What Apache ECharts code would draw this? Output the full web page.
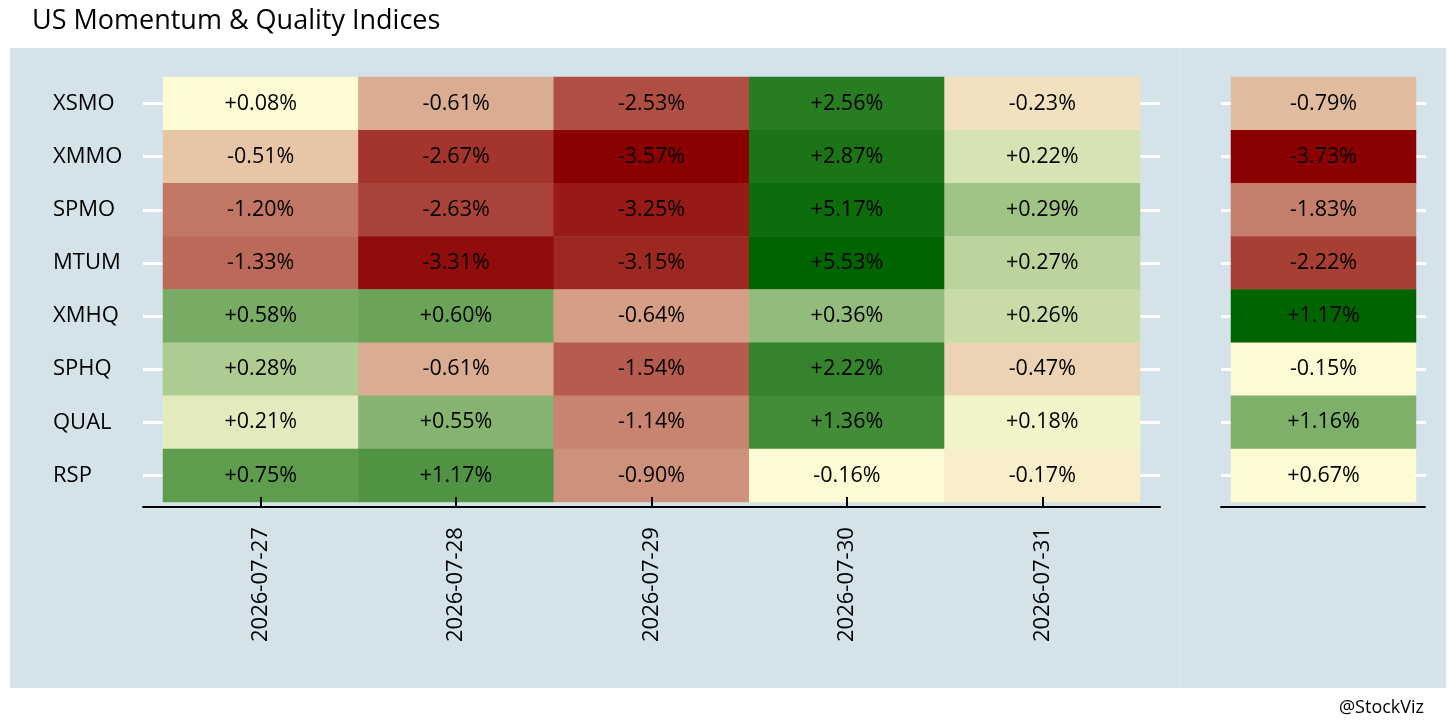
<!DOCTYPE html>
<html>
<head>
<meta charset="utf-8">
<script src="https://cdn.jsdelivr.net/npm/echarts@6/dist/echarts.min.js"></script>
<style>
  html, body { margin: 0; padding: 0; background: #fff; }
</style>
</head>
<body>
<div id="main" style="width: 1456px; height: 728px;"></div>

<script type="text/javascript">
    // tickers (rows, top to bottom) and trading days (columns)
    var tickers = ['XSMO', 'XMMO', 'SPMO', 'MTUM', 'XMHQ', 'SPHQ', 'QUAL', 'RSP'];
    var dates = ['2026-07-27', '2026-07-28', '2026-07-29', '2026-07-30', '2026-07-31'];

    // daily % returns, one array per day, in ticker order
    var ret0727 = [0.08, -0.51, -1.20, -1.33, 0.58, 0.28, 0.21, 0.75];
    var ret0728 = [-0.61, -2.67, -2.63, -3.31, 0.60, -0.61, 0.55, 1.17];
    var ret0729 = [-2.53, -3.57, -3.25, -3.15, -0.64, -1.54, -1.14, -0.90];
    var ret0730 = [2.56, 2.87, 5.17, 5.53, 0.36, 2.22, 1.36, -0.16];
    var ret0731 = [-0.23, 0.22, 0.29, 0.27, 0.26, -0.47, 0.18, -0.17];
    // total for the week (right panel)
    var retWeek = [-0.79, -3.73, -1.83, -2.22, 1.17, -0.15, 1.16, 0.67];

    var dayCols = [ret0727, ret0728, ret0729, ret0730, ret0731];

    var RED = [139, 0, 0], YEL = [254, 251, 212], GRN = [0, 100, 0];

    function mix(a, b, t) {
        var c = [];
        for (var i = 0; i < 3; i++) c.push(Math.round(a[i] + (b[i] - a[i]) * t));
        return 'rgb(' + c.join(',') + ')';
    }

    // fill is ranked separately among losers and gainers of a panel
    function colourFn(vals) {
        var neg = vals.filter(function (v) { return v < 0; }).sort(function (a, b) { return a - b; });
        var pos = vals.filter(function (v) { return v >= 0; }).sort(function (a, b) { return a - b; });
        return function (v) {
            if (v < 0) {
                var t = neg.length > 1 ? (neg.length - 1 - neg.indexOf(v)) / (neg.length - 1) : 1;
                return mix(YEL, RED, t);
            }
            var s = pos.length > 1 ? pos.indexOf(v) / (pos.length - 1) : 1;
            return mix(YEL, GRN, s);
        };
    }

    var allDays = [];
    dayCols.forEach(function (c) { allDays = allDays.concat(c); });
    var dayColour = colourFn(allDays);
    var weekColour = colourFn(retWeek);

    var dayData = [];
    dayCols.forEach(function (col, x) {
        col.forEach(function (v, y) {
            dayData.push({ value: [x, y, v], itemStyle: { color: dayColour(v) } });
        });
    });
    var weekData = retWeek.map(function (v, y) {
        return { value: [0, y, v], itemStyle: { color: weekColour(v) } };
    });

    function pct(p) {
        var v = p.value[2];
        return (v >= 0 ? '+' : '') + v.toFixed(2) + '%';
    }

    var FONT = 'Open Sans';
    var tickWhite = function (len) {
        return { show: true, alignWithLabel: true, length: len, lineStyle: { color: '#fff', width: 3 } };
    };

    var myChart = echarts.init(document.getElementById('main'));
    var option = {
        animation: false,
        backgroundColor: '#fff',
        textStyle: { fontFamily: FONT },
        title: [
            { text: 'US Momentum & Quality Indices', left: 27, top: 3,
              textStyle: { fontSize: 27, fontWeight: 'normal', color: '#000', fontFamily: FONT } },
            { text: '@StockViz', right: 27, top: 694,
              textStyle: { fontSize: 18, fontWeight: 'normal', color: '#000', fontFamily: FONT } }
        ],
        graphic: [
            { type: 'rect', z: -10, shape: { x: 10, y: 48, width: 1436, height: 640 }, style: { fill: '#d4e3ea' } },
            { type: 'line', z: -9, shape: { x1: 1180.5, y1: 48, x2: 1180.5, y2: 688 }, style: { stroke: '#d9e7ed', lineWidth: 1 } }
        ],
        grid: [
            { left: 163, top: 77, width: 977, height: 425 },
            { left: 1231, top: 77, width: 185, height: 425 },
            { left: 143, top: 77, width: 1017, height: 430 },
            { left: 1221, top: 77, width: 204, height: 430 }
        ],
        xAxis: [
            { type: 'category', gridIndex: 0, data: dates, offset: 5, z: 5,
              axisLine: { show: false },
              axisTick: { show: true, inside: true, alignWithLabel: true, length: 10, lineStyle: { color: '#000', width: 2 } },
              axisLabel: { rotate: 90, align: 'left', verticalAlign: 'middle', margin: 135,
                           fontSize: 22, color: '#000', fontFamily: FONT },
              splitLine: { show: false } },
            { type: 'category', gridIndex: 1, data: ['Week'],
              axisLine: { show: false }, axisTick: { show: false }, axisLabel: { show: false } },
            { type: 'value', gridIndex: 2, min: 0, max: 1, z: 5,
              axisLine: { show: true, lineStyle: { color: '#000', width: 2 } },
              axisTick: { show: false }, axisLabel: { show: false }, splitLine: { show: false } },
            { type: 'value', gridIndex: 3, min: 0, max: 1, z: 5,
              axisLine: { show: true, lineStyle: { color: '#000', width: 2 } },
              axisTick: { show: false }, axisLabel: { show: false }, splitLine: { show: false } }
        ],
        yAxis: [
            { type: 'category', gridIndex: 0, data: tickers, inverse: true, position: 'left',
              axisLine: { show: false }, axisTick: tickWhite(20),
              axisLabel: { align: 'left', margin: 110, fontSize: 22, color: '#000', fontFamily: FONT } },
            { type: 'category', gridIndex: 0, data: tickers, inverse: true, position: 'right',
              axisLine: { show: false }, axisTick: tickWhite(20), axisLabel: { show: false } },
            { type: 'category', gridIndex: 1, data: tickers, inverse: true, position: 'left',
              axisLine: { show: false }, axisTick: tickWhite(10), axisLabel: { show: false } },
            { type: 'category', gridIndex: 1, data: tickers, inverse: true, position: 'right',
              axisLine: { show: false }, axisTick: tickWhite(10), axisLabel: { show: false } },
            { type: 'value', gridIndex: 2, show: false },
            { type: 'value', gridIndex: 3, show: false }
        ],
        series: [
            { name: 'daily', type: 'heatmap', xAxisIndex: 0, yAxisIndex: 0, data: dayData,
              label: { show: true, formatter: pct, fontSize: 21.5, color: '#000', fontFamily: FONT },
              emphasis: { disabled: true } },
            { name: 'week', type: 'heatmap', xAxisIndex: 1, yAxisIndex: 2, data: weekData,
              label: { show: true, formatter: pct, fontSize: 21.5, color: '#000', fontFamily: FONT },
              emphasis: { disabled: true } }
        ]
    };
    myChart.setOption(option);
</script>
</body>
</html>
